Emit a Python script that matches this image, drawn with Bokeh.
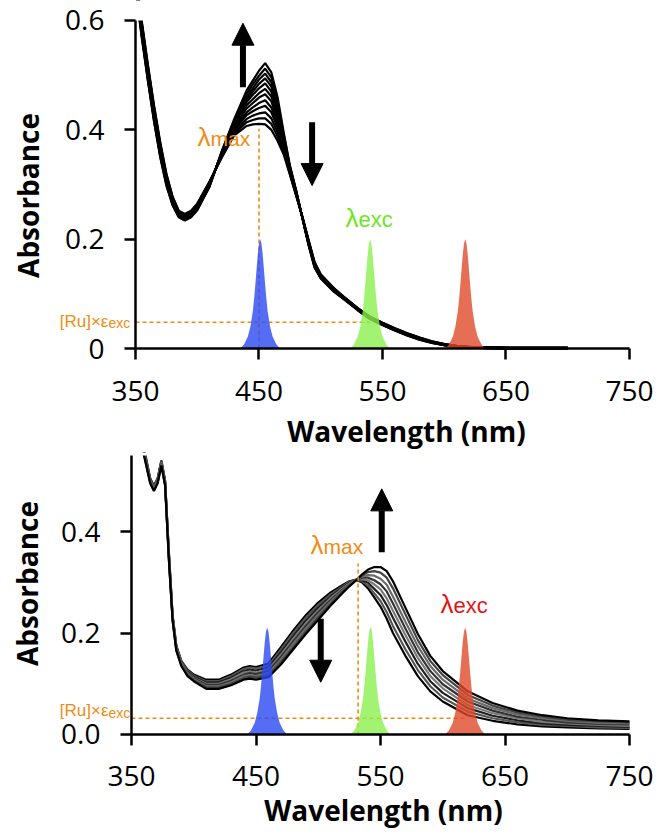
import math
from bokeh.plotting import figure
from bokeh.layouts import column
from bokeh.models import (Range1d, FixedTicker, Label, Arrow, NormalHead, NumeralTickFormatter,
                          LinearAxis, BoxAnnotation, BasicTickFormatter)
from bokeh.embed import file_html
from bokeh.resources import INLINE

# ---------------- data ----------------
X_TICKS = [350, 450, 550, 650, 750]
X_BOUNDS = (350, 750)
TOP_Y_TICKS = [0, 0.2, 0.4, 0.6]
TOP_Y_MAX = 0.6
BOT_Y_TICKS = [0.0, 0.2, 0.4]
BOT_Y_MAX = 0.55

# top panel: 12 spectra (columns), one row per wavelength
TOP_WL = [350, 355, 360, 365, 370, 375, 380, 385, 390, 395, 400, 410, 420, 430, 440,
          445, 450, 455, 460, 465, 470, 475, 480, 485, 490, 495, 500, 510, 520, 530,
          540, 550, 560, 570, 580, 590, 600, 610, 620, 640, 660, 680, 700]
TOP_ABS_ROWS = [
    [0.690, 0.687, 0.685, 0.682, 0.679, 0.677, 0.674, 0.671, 0.668, 0.666, 0.663, 0.660],
    [0.600, 0.597, 0.595, 0.592, 0.589, 0.586, 0.583, 0.580, 0.577, 0.575, 0.572, 0.570],
    [0.520, 0.517, 0.515, 0.512, 0.509, 0.506, 0.503, 0.500, 0.497, 0.495, 0.492, 0.490],
    [0.445, 0.442, 0.440, 0.437, 0.434, 0.431, 0.428, 0.425, 0.422, 0.420, 0.417, 0.415],
    [0.378, 0.375, 0.373, 0.370, 0.368, 0.365, 0.362, 0.360, 0.357, 0.355, 0.352, 0.350],
    [0.320, 0.318, 0.316, 0.314, 0.312, 0.310, 0.308, 0.306, 0.304, 0.302, 0.300, 0.298],
    [0.278, 0.277, 0.275, 0.274, 0.272, 0.271, 0.269, 0.268, 0.266, 0.265, 0.263, 0.262],
    [0.252, 0.251, 0.250, 0.249, 0.248, 0.247, 0.246, 0.245, 0.244, 0.243, 0.241, 0.240],
    [0.246, 0.245, 0.244, 0.243, 0.242, 0.241, 0.240, 0.239, 0.238, 0.237, 0.235, 0.234],
    [0.252, 0.251, 0.250, 0.249, 0.248, 0.247, 0.246, 0.245, 0.244, 0.243, 0.241, 0.240],
    [0.265, 0.264, 0.263, 0.262, 0.261, 0.260, 0.259, 0.258, 0.257, 0.256, 0.254, 0.253],
    [0.306, 0.305, 0.304, 0.303, 0.302, 0.301, 0.301, 0.300, 0.299, 0.298, 0.297, 0.296],
    [0.350, 0.351, 0.352, 0.354, 0.355, 0.356, 0.357, 0.358, 0.359, 0.360, 0.361, 0.362],
    [0.390, 0.393, 0.396, 0.399, 0.402, 0.405, 0.407, 0.410, 0.413, 0.415, 0.417, 0.420],
    [0.407, 0.414, 0.420, 0.427, 0.432, 0.439, 0.445, 0.451, 0.456, 0.461, 0.466, 0.472],
    [0.410, 0.418, 0.426, 0.434, 0.441, 0.449, 0.456, 0.464, 0.470, 0.476, 0.483, 0.490],
    [0.411, 0.421, 0.430, 0.440, 0.449, 0.459, 0.467, 0.476, 0.484, 0.492, 0.499, 0.508],
    [0.410, 0.421, 0.432, 0.444, 0.454, 0.465, 0.475, 0.485, 0.494, 0.503, 0.512, 0.522],
    [0.400, 0.411, 0.421, 0.432, 0.441, 0.452, 0.461, 0.470, 0.479, 0.487, 0.496, 0.505],
    [0.380, 0.388, 0.396, 0.404, 0.411, 0.419, 0.426, 0.434, 0.440, 0.446, 0.453, 0.460],
    [0.355, 0.359, 0.363, 0.367, 0.371, 0.375, 0.378, 0.382, 0.385, 0.388, 0.391, 0.395],
    [0.318, 0.320, 0.321, 0.323, 0.325, 0.326, 0.328, 0.329, 0.331, 0.332, 0.333, 0.335],
    [0.280, 0.281, 0.282, 0.283, 0.284, 0.285, 0.286, 0.287, 0.288, 0.288, 0.289, 0.290],
    [0.242, 0.242, 0.242, 0.241, 0.241, 0.241, 0.241, 0.241, 0.240, 0.240, 0.240, 0.240],
    [0.200, 0.199, 0.198, 0.197, 0.196, 0.195, 0.194, 0.193, 0.193, 0.192, 0.191, 0.190],
    [0.158, 0.157, 0.156, 0.155, 0.154, 0.153, 0.152, 0.151, 0.151, 0.150, 0.149, 0.148],
    [0.136, 0.135, 0.134, 0.134, 0.133, 0.132, 0.131, 0.131, 0.130, 0.129, 0.129, 0.128],
    [0.112, 0.111, 0.111, 0.110, 0.109, 0.109, 0.108, 0.107, 0.107, 0.106, 0.106, 0.105],
    [0.092, 0.092, 0.091, 0.091, 0.090, 0.090, 0.090, 0.089, 0.089, 0.089, 0.088, 0.088],
    [0.074, 0.074, 0.073, 0.073, 0.072, 0.072, 0.072, 0.071, 0.071, 0.071, 0.070, 0.070],
    [0.058, 0.058, 0.057, 0.057, 0.056, 0.056, 0.056, 0.055, 0.055, 0.055, 0.054, 0.054],
    [0.047, 0.047, 0.046, 0.046, 0.045, 0.045, 0.045, 0.044, 0.044, 0.044, 0.043, 0.043],
    [0.037, 0.037, 0.036, 0.036, 0.035, 0.035, 0.035, 0.034, 0.034, 0.034, 0.033, 0.033],
    [0.028, 0.028, 0.027, 0.027, 0.026, 0.026, 0.026, 0.025, 0.025, 0.025, 0.024, 0.024],
    [0.020, 0.020, 0.019, 0.019, 0.018, 0.018, 0.018, 0.017, 0.017, 0.017, 0.016, 0.016],
    [0.013, 0.013, 0.012, 0.012, 0.012, 0.012, 0.011, 0.011, 0.011, 0.011, 0.010, 0.010],
    [0.008, 0.008, 0.008, 0.007, 0.007, 0.007, 0.007, 0.007, 0.006, 0.006, 0.006, 0.006],
    [0.005, 0.005, 0.005, 0.004, 0.004, 0.004, 0.004, 0.004, 0.003, 0.003, 0.003, 0.003],
    [0.003, 0.003, 0.003, 0.003, 0.002, 0.002, 0.002, 0.002, 0.002, 0.002, 0.002, 0.002],
    [0.002, 0.002, 0.002, 0.001, 0.001, 0.001, 0.001, 0.001, 0.001, 0.000, 0.000, 0.000],
    [0.001, 0.001, 0.001, 0.001, 0.001, 0.001, 0.000, 0.000, 0.000, 0.000, 0.000, 0.000],
    [0.001, 0.001, 0.001, 0.001, 0.001, 0.001, 0.000, 0.000, 0.000, 0.000, 0.000, 0.000],
    [0.001, 0.001, 0.001, 0.001, 0.001, 0.001, 0.000, 0.000, 0.000, 0.000, 0.000, 0.000],
]

# bottom panel: 8 spectra (columns), one row per wavelength
BOT_WL = [350, 355, 360, 365, 368, 371, 374, 377, 380, 383, 386, 390, 395, 400, 410,
          420, 430, 440, 445, 450, 460, 470, 480, 490, 500, 510, 520, 525, 530, 535,
          540, 545, 550, 555, 560, 570, 580, 590, 600, 620, 640, 660, 680, 700, 725, 750]
BOT_ABS_ROWS = [
    [0.800, 0.797, 0.794, 0.791, 0.789, 0.786, 0.783, 0.780],
    [0.680, 0.677, 0.674, 0.671, 0.669, 0.666, 0.663, 0.660],
    [0.565, 0.563, 0.561, 0.559, 0.556, 0.554, 0.552, 0.550],
    [0.505, 0.504, 0.502, 0.501, 0.499, 0.498, 0.496, 0.495],
    [0.490, 0.489, 0.487, 0.486, 0.484, 0.483, 0.481, 0.480],
    [0.505, 0.504, 0.502, 0.501, 0.499, 0.498, 0.496, 0.495],
    [0.540, 0.539, 0.537, 0.536, 0.534, 0.533, 0.531, 0.530],
    [0.500, 0.499, 0.497, 0.496, 0.494, 0.493, 0.491, 0.490],
    [0.360, 0.358, 0.356, 0.354, 0.351, 0.349, 0.347, 0.345],
    [0.235, 0.234, 0.232, 0.231, 0.229, 0.228, 0.226, 0.225],
    [0.175, 0.174, 0.172, 0.171, 0.169, 0.168, 0.166, 0.165],
    [0.145, 0.144, 0.142, 0.141, 0.139, 0.138, 0.136, 0.135],
    [0.128, 0.126, 0.124, 0.122, 0.121, 0.119, 0.117, 0.115],
    [0.118, 0.116, 0.114, 0.112, 0.111, 0.109, 0.107, 0.105],
    [0.108, 0.105, 0.103, 0.100, 0.098, 0.095, 0.093, 0.090],
    [0.108, 0.105, 0.103, 0.100, 0.098, 0.095, 0.093, 0.090],
    [0.118, 0.115, 0.112, 0.109, 0.106, 0.103, 0.100, 0.097],
    [0.132, 0.129, 0.125, 0.122, 0.118, 0.115, 0.111, 0.108],
    [0.135, 0.132, 0.128, 0.124, 0.121, 0.117, 0.114, 0.110],
    [0.133, 0.130, 0.126, 0.122, 0.119, 0.115, 0.112, 0.108],
    [0.140, 0.136, 0.132, 0.128, 0.125, 0.121, 0.117, 0.113],
    [0.172, 0.167, 0.162, 0.157, 0.153, 0.148, 0.143, 0.138],
    [0.205, 0.200, 0.194, 0.189, 0.184, 0.179, 0.173, 0.168],
    [0.235, 0.230, 0.224, 0.219, 0.214, 0.209, 0.203, 0.198],
    [0.260, 0.255, 0.250, 0.245, 0.241, 0.236, 0.231, 0.226],
    [0.280, 0.276, 0.272, 0.269, 0.265, 0.262, 0.258, 0.254],
    [0.295, 0.293, 0.291, 0.289, 0.286, 0.284, 0.282, 0.280],
    [0.302, 0.301, 0.299, 0.298, 0.296, 0.295, 0.293, 0.292],
    [0.305, 0.305, 0.304, 0.304, 0.304, 0.304, 0.303, 0.303],
    [0.300, 0.302, 0.304, 0.306, 0.309, 0.311, 0.313, 0.315],
    [0.288, 0.293, 0.299, 0.304, 0.309, 0.314, 0.320, 0.325],
    [0.270, 0.278, 0.287, 0.296, 0.304, 0.313, 0.322, 0.330],
    [0.252, 0.263, 0.275, 0.286, 0.296, 0.307, 0.319, 0.330],
    [0.228, 0.241, 0.255, 0.268, 0.282, 0.295, 0.309, 0.322],
    [0.200, 0.214, 0.230, 0.244, 0.258, 0.272, 0.288, 0.302],
    [0.155, 0.168, 0.183, 0.196, 0.209, 0.222, 0.237, 0.250],
    [0.115, 0.127, 0.139, 0.151, 0.162, 0.174, 0.186, 0.198],
    [0.085, 0.095, 0.105, 0.115, 0.125, 0.135, 0.145, 0.155],
    [0.065, 0.073, 0.082, 0.091, 0.099, 0.108, 0.117, 0.125],
    [0.038, 0.045, 0.052, 0.058, 0.065, 0.071, 0.078, 0.085],
    [0.027, 0.032, 0.037, 0.042, 0.047, 0.052, 0.057, 0.062],
    [0.020, 0.024, 0.028, 0.032, 0.035, 0.039, 0.043, 0.047],
    [0.016, 0.019, 0.022, 0.025, 0.029, 0.032, 0.035, 0.038],
    [0.014, 0.017, 0.019, 0.022, 0.024, 0.027, 0.029, 0.032],
    [0.012, 0.014, 0.017, 0.019, 0.021, 0.023, 0.026, 0.028],
    [0.011, 0.013, 0.015, 0.017, 0.020, 0.022, 0.024, 0.026],
]
BOT_LINE_COLORS = ["#000000", "#555555", "#1e1e1e", "#7a7a7a", "#333333", "#6a6a6a", "#444444", "#000000"]

# LED emission profile (nm offset from centre, relative intensity)
LED_OFFSET = [-16, -13, -10, -8, -6, -5, -4, -3, -2, -1, 0, 1, 2, 3, 4, 5, 6, 8, 10, 13, 16]
LED_REL = [0.0, 0.04, 0.11, 0.2, 0.34, 0.45, 0.58, 0.72, 0.86, 0.96, 1.0,
           0.96, 0.86, 0.72, 0.58, 0.45, 0.34, 0.2, 0.11, 0.04, 0.0]
LED_COLORS = ["#2a48f2", "#8cf050", "#e04a2a"]
TOP_LED_CENTER = [451, 540, 617]
TOP_LED_PEAK = [0.2, 0.2, 0.2]
BOT_LED_CENTER = [459, 542, 618]
BOT_LED_PEAK = [0.211, 0.213, 0.211]

# annotation values
TOP_LMAX_NM, TOP_LMAX_ABS = 450, 0.402
TOP_EPS_ABS, TOP_EPS_END_NM = 0.048, 540
BOT_LMAX_NM, BOT_LMAX_ABS = 532, 0.337
BOT_EPS_ABS, BOT_EPS_END_NM = 0.032, 618
TOP_ARROWS = [(437, 0.478, 0.595), (493, 0.414, 0.298)]
BOT_ARROWS = [(551, 0.359, 0.484), (502, 0.228, 0.103)]

ORANGE = "#ef8c14"
GREEN = "#6ee61e"
RED = "#e41414"
TICK_FONT = "Open Sans"
ANN_FONT = "Liberation Sans"


def make_fig(height, xr, yr, y_ticks, y_max, y_formatter):
    p = figure(width=667, height=height, x_range=Range1d(*xr), y_range=Range1d(*yr),
               output_backend="svg", toolbar_location=None, title=None,
               x_axis_location=None, y_axis_location=None,
               min_border=0, min_border_left=0, min_border_right=0,
               min_border_top=0, min_border_bottom=0)
    p.grid.visible = False
    p.outline_line_color = None
    p.background_fill_color = "white"
    p.border_fill_color = "white"
    xa = LinearAxis(fixed_location=0, bounds=X_BOUNDS, ticker=FixedTicker(ticks=X_TICKS))
    ya = LinearAxis(fixed_location=X_BOUNDS[0], bounds=(0, y_max),
                    ticker=FixedTicker(ticks=y_ticks), formatter=y_formatter)
    for ax in (xa, ya):
        ax.axis_line_width = 2.5
        ax.axis_line_color = "black"
        ax.major_tick_line_width = 2.5
        ax.major_tick_line_color = "black"
        ax.major_tick_in = 0
        ax.major_tick_out = 11
        ax.minor_tick_line_color = None
        ax.major_label_text_font = TICK_FONT
        ax.major_label_text_font_size = "28px"
        ax.major_label_text_color = "black"
    xa.major_label_standoff = 21
    ya.major_label_standoff = 20
    p.add_layout(xa, "below")
    p.add_layout(ya, "left")
    return p


def add_text(p, x, y, text, color, size, align="left", font=ANN_FONT, style_="normal", angle=0.0,
             baseline="alphabetic"):
    p.add_layout(Label(x=x, y=y, text=text, text_color=color, text_font_size=size,
                       text_align=align, text_baseline=baseline, text_font=font,
                       text_font_style=style_, angle=angle))


def add_leds(p, centers, peaks):
    for c, pk, col in zip(centers, peaks, LED_COLORS):
        xs = [c + o for o in LED_OFFSET]
        ys = [pk * r for r in LED_REL]
        p.varea(x=xs, y1=[0] * len(xs), y2=ys, fill_color=col, fill_alpha=0.8)


def add_arrows(p, arrows):
    for x, y0, y1 in arrows:
        p.add_layout(Arrow(end=NormalHead(size=22, fill_color="black", line_color="black", line_width=1),
                           x_start=x, y_start=y0, x_end=x, y_end=y1,
                           line_width=6, line_color="black"))


# ---------------- top panel ----------------
p1 = make_fig(452, (240.69, 780.77), (-0.19023, 0.63655), TOP_Y_TICKS, TOP_Y_MAX, BasicTickFormatter())

n_top = len(TOP_ABS_ROWS[0])
top_x = [TOP_WL] * n_top
top_y = [[row[k] for row in TOP_ABS_ROWS] for k in range(n_top)]
p1.multi_line(xs=top_x, ys=top_y, line_color="black", line_width=2.2)
# blank out what lies above the top of the y axis
p1.add_layout(BoxAnnotation(left=X_BOUNDS[0] - 1.5, bottom=TOP_Y_MAX, top=1.0, fill_color="white",
                            fill_alpha=1.0, line_alpha=0, level="glyph"))

p1.segment(x0=[TOP_LMAX_NM, 350], y0=[0, TOP_EPS_ABS], x1=[TOP_LMAX_NM, TOP_EPS_END_NM],
           y1=[TOP_LMAX_ABS, TOP_EPS_ABS], line_color=ORANGE, line_width=1.6, line_dash="4 3")
add_leds(p1, TOP_LED_CENTER, TOP_LED_PEAK)
add_arrows(p1, TOP_ARROWS)

add_text(p1, 400.2, 0.387, "λ", ORANGE, "26px")
add_text(p1, 410.7, 0.384, "max", ORANGE, "21px")
add_text(p1, 520.0, 0.239, "λ", GREEN, "26px")
add_text(p1, 530.6, 0.236, "exc", GREEN, "22px")
add_text(p1, 328.1, 0.050, "[Ru]×ε", ORANGE, "17px", align="right")
add_text(p1, 328.1, 0.046, "exc", ORANGE, "14px")
add_text(p1, 263.0, 0.280, "Absorbance", "black", "28px", align="center", font=TICK_FONT,
         style_="bold", angle=math.pi / 2, baseline="middle")
add_text(p1, 569.4, -0.1505, "Wavelength (nm)", "black", "28px", align="center", font=TICK_FONT,
         style_="bold")

# ---------------- bottom panel ----------------
p2 = make_fig(385, (244.78, 780.52), (-0.20296, 0.55567), BOT_Y_TICKS, BOT_Y_MAX,
              NumeralTickFormatter(format="0.0"))

n_bot = len(BOT_ABS_ROWS[0])
bot_x = [BOT_WL] * n_bot
bot_y = [[row[k] for row in BOT_ABS_ROWS] for k in range(n_bot)]
p2.multi_line(xs=bot_x, ys=bot_y, line_color=BOT_LINE_COLORS, line_width=2.2)
p2.add_layout(BoxAnnotation(left=X_BOUNDS[0] - 1.5, bottom=BOT_Y_MAX, top=1.0, fill_color="white",
                            fill_alpha=1.0, line_alpha=0, level="glyph"))

p2.segment(x0=[BOT_LMAX_NM, 350], y0=[0, BOT_EPS_ABS], x1=[BOT_LMAX_NM, BOT_EPS_END_NM],
           y1=[BOT_LMAX_ABS, BOT_EPS_ABS], line_color=ORANGE, line_width=1.6, line_dash="4 3")
add_leds(p2, BOT_LED_CENTER, BOT_LED_PEAK)
add_arrows(p2, BOT_ARROWS)

add_text(p2, 493.8, 0.374, "λ", ORANGE, "26px")
add_text(p2, 504.2, 0.371, "max", ORANGE, "21px")
add_text(p2, 598.2, 0.258, "λ", RED, "26px")
add_text(p2, 608.6, 0.255, "exc", RED, "22px")
add_text(p2, 331.5, 0.047, "[Ru]×ε", ORANGE, "17px", align="right")
add_text(p2, 331.5, 0.043, "exc", ORANGE, "14px")
add_text(p2, 265.7, 0.2975, "Absorbance", "black", "28px", align="center", font=TICK_FONT,
         style_="bold", angle=math.pi / 2, baseline="middle")
add_text(p2, 552.4, -0.1494, "Wavelength (nm)", "black", "28px", align="center", font=TICK_FONT,
         style_="bold")

layout = column(p1, p2, spacing=0)
open("out.html", "w").write(file_html(layout, INLINE))
